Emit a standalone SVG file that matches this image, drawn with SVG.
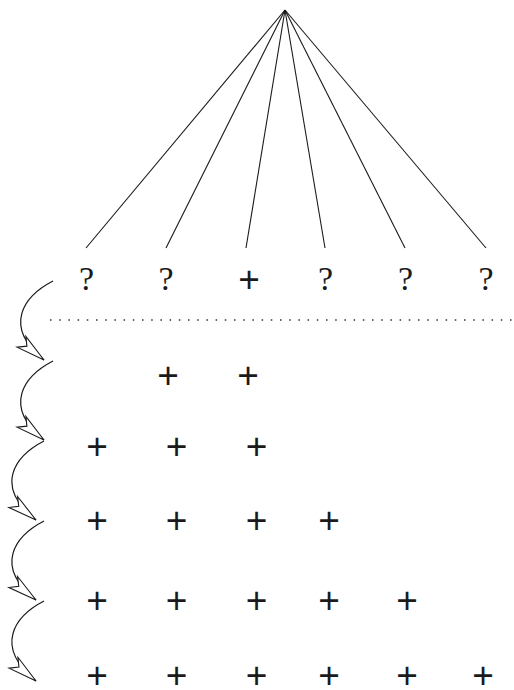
<svg xmlns="http://www.w3.org/2000/svg" width="514" height="690" viewBox="0 0 514 690">
<style>
.fan{stroke:#1a1a1a;stroke-width:1.1;fill:none}
.q{font-family:"Liberation Serif",serif;font-size:34px;fill:#1a1a1a;text-anchor:middle}
.p{font-family:"Liberation Sans",Arial,sans-serif;font-size:37px;fill:#1a1a1a;text-anchor:middle}
.arc{stroke:#1a1a1a;stroke-width:1.2;fill:none;marker-end:url(#ah)}
.dot{stroke:#333;stroke-width:1.5;stroke-dasharray:1.5 7.7;fill:none}
</style>
<defs>
<marker id="ah" markerUnits="userSpaceOnUse" orient="auto" refX="0" refY="0" markerWidth="40" markerHeight="20" viewBox="-32 -10 34 20" overflow="visible">
<path d="M0,0 L-29,-7 L-22,0 L-29,7 Z" fill="#fff" stroke="#1a1a1a" stroke-width="1.1" stroke-linejoin="miter"/>
</marker>
</defs>
<g id="fan">
<line class="fan" x1="285" y1="10" x2="86" y2="248"/>
<line class="fan" x1="285" y1="10" x2="166" y2="248"/>
<line class="fan" x1="285" y1="10" x2="246" y2="248"/>
<line class="fan" x1="285" y1="10" x2="325" y2="248"/>
<line class="fan" x1="285" y1="10" x2="405" y2="248"/>
<line class="fan" x1="285" y1="10" x2="486" y2="248"/>
</g>
<g id="row0">
<text class="q" x="86.5" y="290">?</text>
<text class="q" x="166" y="290">?</text>
<text class="p" x="249" y="292">+</text>
<text class="q" x="325.5" y="290">?</text>
<text class="q" x="405.5" y="290">?</text>
<text class="q" x="486" y="290">?</text>
</g>
<path id="separator" class="dot" d="M50,320 H512"/>
<g id="row1">
<text class="p" x="168" y="388">+</text>
<text class="p" x="248" y="388">+</text>
</g>
<g id="row2">
<text class="p" x="97" y="459">+</text>
<text class="p" x="176.5" y="459">+</text>
<text class="p" x="256.5" y="459">+</text>
</g>
<g id="row3">
<text class="p" x="97" y="533">+</text>
<text class="p" x="176.5" y="533">+</text>
<text class="p" x="256.5" y="533">+</text>
<text class="p" x="329" y="533">+</text>
</g>
<g id="row4">
<text class="p" x="97" y="613">+</text>
<text class="p" x="176.5" y="613">+</text>
<text class="p" x="256.5" y="613">+</text>
<text class="p" x="329" y="613">+</text>
<text class="p" x="407" y="613">+</text>
</g>
<g id="row5">
<text class="p" x="97" y="688">+</text>
<text class="p" x="176.5" y="688">+</text>
<text class="p" x="256.5" y="688">+</text>
<text class="p" x="329" y="688">+</text>
<text class="p" x="407" y="688">+</text>
<text class="p" x="483" y="688">+</text>
</g>
<g id="connectors">
<path class="arc" d="M53,281 C24,296 2,326 44,360"/>
<path class="arc" d="M53,361 C24,376 2,406 44,440"/>
<path class="arc" d="M44,441 C15,456 -7,486 36,520"/>
<path class="arc" d="M44,521 C15,536 -7,566 36,600"/>
<path class="arc" d="M44,601 C15,616 -7,646 36,681"/>
</g>
</svg>
